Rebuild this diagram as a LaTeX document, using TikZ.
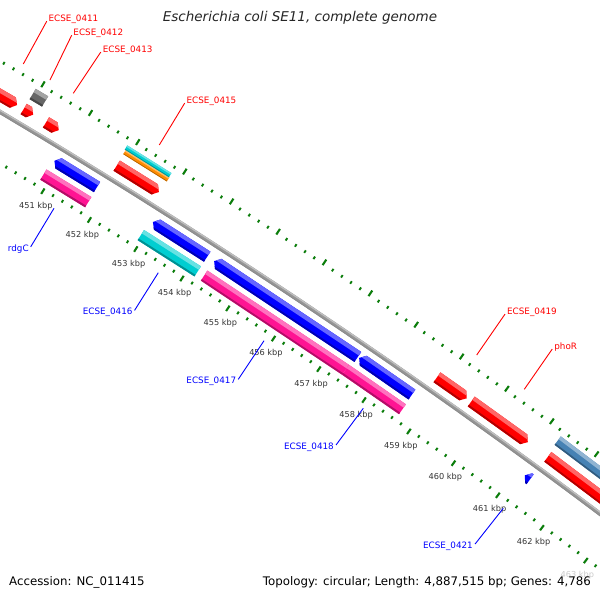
\documentclass[tikz,border=0pt]{standalone}
\usepackage{fontspec}
\setmainfont{DejaVu Sans}
\definecolor{fred}{HTML}{FF0000}
\definecolor{fblue}{HTML}{0000FF}
\definecolor{fpink}{HTML}{FF1493}
\definecolor{fcyan}{HTML}{00CED1}
\definecolor{forange}{HTML}{FF8C00}
\definecolor{fgrey}{HTML}{666666}
\definecolor{fsteel}{HTML}{4682B4}
\definecolor{tickgreen}{HTML}{0B7D0B}
\definecolor{bbgrey}{HTML}{959595}
\definecolor{kbtext}{HTML}{333333}
\definecolor{labred}{HTML}{FF0000}
\definecolor{labblue}{HTML}{0000FF}

% band between two radii over a kbp range
\newcommand\gbandfill[5]{\fill[#5] ({gx(#1,#3)},{gy(#1,#3)}) -- ({gx(#2,#3)},{gy(#2,#3)}) -- ({gx(#2,#4)},{gy(#2,#4)}) -- ({gx(#1,#4)},{gy(#1,#4)}) -- cycle;}

% feature: #1 type (0 box, 1 forward, 2 reverse), #2 k1, #3 k2, #4 centre radius, #5 thickness, #6 colour
\newcommand\gfeat[6]{%
  \pgfmathsetmacro\gfRo{#4+#5/2}%
  \pgfmathsetmacro\gfRi{#4-#5/2}%
  \pgfmathsetmacro\gfRl{#4+#5/2-0.33*#5}%
  \pgfmathsetmacro\gfRd{#4-#5/2+0.17*#5}%
  \pgfmathsetmacro\gfKa{#2-0.3}%
  \pgfmathsetmacro\gfKb{#3+0.3}%
  \pgfmathsetmacro\gfH{min(0.09,#3-#2)}%
  \pgfmathsetmacro\gfKf{#3-\gfH}%
  \pgfmathsetmacro\gfKr{#2+\gfH}%
  \coordinate (fA1) at ({gx(#2,\gfRo)},{gy(#2,\gfRo)});
  \coordinate (fA2) at ({gx(#3,\gfRo)},{gy(#3,\gfRo)});
  \coordinate (fA3) at ({gx(#3,#4)},{gy(#3,#4)});
  \coordinate (fA4) at ({gx(#3,\gfRi)},{gy(#3,\gfRi)});
  \coordinate (fA5) at ({gx(#2,\gfRi)},{gy(#2,\gfRi)});
  \coordinate (fA6) at ({gx(#2,#4)},{gy(#2,#4)});
  \coordinate (fH1) at ({gx(\gfKf,\gfRo)},{gy(\gfKf,\gfRo)});
  \coordinate (fH2) at ({gx(\gfKf,\gfRi)},{gy(\gfKf,\gfRi)});
  \coordinate (fH3) at ({gx(\gfKr,\gfRo)},{gy(\gfKr,\gfRo)});
  \coordinate (fH4) at ({gx(\gfKr,\gfRi)},{gy(\gfKr,\gfRi)});
  \begin{scope}
    \ifcase#1\relax
      \clip (fA1)--(fA2)--(fA4)--(fA5)--cycle;
    \or
      \clip (fA1)--(fH1)--(fA3)--(fH2)--(fA5)--cycle;
    \or
      \clip (fH3)--(fA2)--(fA4)--(fH4)--(fA6)--cycle;
    \fi
    \gbandfill{\gfKa}{\gfKb}{\gfRi-1}{\gfRo+1}{#6}
    \gbandfill{\gfKa}{\gfKb}{\gfRl}{\gfRo+1}{#6!60!white}
    \gbandfill{\gfKa}{\gfKb}{\gfRi-1}{\gfRd}{#6!70!black}
  \end{scope}
}

\begin{document}
\begin{tikzpicture}[x=1pt,y=-1pt,
  declare function={
    ph(\k)=-(\k-456.526)*0.0083008;
    gx(\k,\r)=-3391+0.559193*\r*(1-ph(\k)*ph(\k)/2)-0.829038*\r*ph(\k)*(1-ph(\k)*ph(\k)/6);
    gy(\k,\r)=5823-0.829038*\r*(1-ph(\k)*ph(\k)/2)-0.559193*\r*ph(\k)*(1-ph(\k)*ph(\k)/6);
  },
  minortick/.style={draw=tickgreen, line width=1.9pt},
  majortick/.style={draw=tickgreen, line width=2.1pt},
  kbplab/.style={text=kbtext, font=\fontsize{8.2}{9}\selectfont, inner sep=0pt},
  redlab/.style={text=labred, font=\fontsize{8.8}{10}\selectfont, inner sep=0.5pt},
  bluelab/.style={text=labblue, font=\fontsize{8.8}{10}\selectfont, inner sep=0.5pt},
  redline/.style={draw=labred, line width=0.9pt, shorten <=2.5pt},
  blueline/.style={draw=labblue, line width=0.9pt, shorten <=2.5pt},
  foottext/.style={font=\fontsize{11.8}{13}\selectfont, text=black, inner sep=0pt}
]
\useasboundingbox (0,0) rectangle (600,600);
\clip (0,0) rectangle (600,600);
\fill[white] (0,0) rectangle (600,600);

% backbone
\draw[bbgrey, line width=4.2pt] plot[domain=446:465, samples=39] ({gx(\x,6642)},{gy(\x,6642)});
\draw[gray!50, line width=1.3pt] plot[domain=446:465, samples=39] ({gx(\x,6643.3)},{gy(\x,6643.3)});
\draw[gray!110!black, line width=0.8pt] plot[domain=446:465, samples=39] ({gx(\x,6640.3)},{gy(\x,6640.3)});

% tick rings
\foreach \i in {2235,...,2325}{
  \pgfmathsetmacro\kk{\i/5}
  \pgfmathtruncatemacro\mm{mod(\i,5)}
  \ifnum\mm=0
    \draw[majortick] ({gx(\kk,6592.8)},{gy(\kk,6592.8)}) -- ({gx(\kk,6599.2)},{gy(\kk,6599.2)});
    \draw[majortick] ({gx(\kk,6684.3)},{gy(\kk,6684.3)}) -- ({gx(\kk,6691)},{gy(\kk,6691)});
  \else
    \draw[minortick] ({gx(\kk,6596.2)},{gy(\kk,6596.2)}) -- ({gx(\kk,6599.2)},{gy(\kk,6599.2)});
    \draw[minortick] ({gx(\kk,6684.3)},{gy(\kk,6684.3)}) -- ({gx(\kk,6687.3)},{gy(\kk,6687.3)});
  \fi
}

% outer features (forward strand)
\gfeat{1}{446.5}{449.79}{6656.5}{12}{fred}
\gfeat{1}{449.93}{450.13}{6656.5}{12}{fred}
\gfeat{1}{450.40}{450.67}{6656.5}{12}{fred}
\gfeat{1}{451.90}{452.80}{6656.5}{12}{fred}
\gfeat{1}{458.85}{459.51}{6656.5}{12}{fred}
\gfeat{1}{459.61}{460.87}{6656.5}{12}{fred}
\gfeat{0}{461.32}{464.5}{6656.5}{12}{fred}
\gfeat{0}{449.93}{450.19}{6674}{12}{fgrey}
\gfeat{0}{451.89}{452.82}{6672.1}{4.75}{forange}
\gfeat{0}{451.87}{452.81}{6676.85}{4.75}{fcyan}
\gfeat{0}{461.29}{464.5}{6675.5}{10.5}{fsteel}

% inner features (reverse strand)
\gfeat{2}{450.89}{451.80}{6628}{12}{fblue}
\gfeat{2}{453.00}{454.17}{6628}{12}{fblue}
\gfeat{2}{454.32}{457.46}{6628}{12}{fblue}
\gfeat{2}{457.49}{458.66}{6628}{12}{fblue}
\gfeat{2}{461.18}{461.30}{6628}{12}{fblue}
\gfeat{0}{450.85}{451.81}{6610.5}{12}{fpink}
\gfeat{0}{452.94}{454.17}{6610.5}{12}{fcyan}
\gfeat{0}{454.31}{457.41}{6610.5}{12}{fpink}
\gfeat{0}{457.41}{458.67}{6610.5}{12}{fpink}

% kbp labels
\foreach \k in {451,...,463}{
  \node[kbplab] (kb\k) at ({gx(\k+0.035,6579.5)},{gy(\k+0.035,6579.5)}) {\k\ kbp};
}

% feature labels
\node[redlab] (l411) at (73.5,19) {ECSE\_0411};
\node[redlab] (l412) at (98.3,33) {ECSE\_0412};
\node[redlab] (l413) at (127.7,50) {ECSE\_0413};
\node[redlab] (l415) at (211.5,101) {ECSE\_0415};
\node[redlab] (l419) at (532,312) {ECSE\_0419};
\node[redlab] (lphoR) at (565.7,347) {phoR};
\coordinate (e411) at (23.3,64);
\coordinate (e412) at (50,80);
\coordinate (e413) at (73.3,93.3);
\coordinate (e415) at (159.3,145);
\coordinate (e419) at (476.7,355);
\coordinate (ephoR) at (524.3,389.3);
\draw[redline] (l411.west) -- (e411);
\draw[redline] (l412.west) -- (e412);
\draw[redline] (l413.west) -- (e413);
\draw[redline] (l415.west) -- (e415);
\draw[redline] (l419.west) -- (e419);
\draw[redline] (lphoR.west) -- (ephoR);

\node[bluelab] (lrdgC) at (18.3,249) {rdgC};
\node[bluelab] (l416) at (107.7,312.5) {ECSE\_0416};
\node[bluelab] (l417) at (211.3,381.5) {ECSE\_0417};
\node[bluelab] (l418) at (309,447) {ECSE\_0418};
\node[bluelab] (l421) at (448,546) {ECSE\_0421};
\coordinate (erdgC) at (54,208.3);
\coordinate (e416) at (158.3,272.7);
\coordinate (e417) at (264,340.7);
\coordinate (e418) at (363.3,408.3);
\coordinate (e421) at (503.3,508.3);
\draw[blueline] (lrdgC.east) -- (erdgC);
\draw[blueline] (l416.east) -- (e416);
\draw[blueline] (l417.east) -- (e417);
\draw[blueline] (l418.east) -- (e418);
\draw[blueline] (l421.east) -- (e421);

% legend strip
\fill[white, opacity=0.75] (0,569) rectangle (600,600);
\node[foottext, anchor=west] (acc) at (9,582) {Accession: NC\_011415};
\node[foottext, anchor=east] (topo) at (591,582) {Topology: circular; Length: 4,887,515 bp; Genes: 4,786};

% title
\node[font=\fontsize{13.5}{15}\selectfont\itshape, text=black!85, inner sep=0pt] (title) at (300,18) {Escherichia coli SE11, complete genome};
\end{tikzpicture}
\end{document}
